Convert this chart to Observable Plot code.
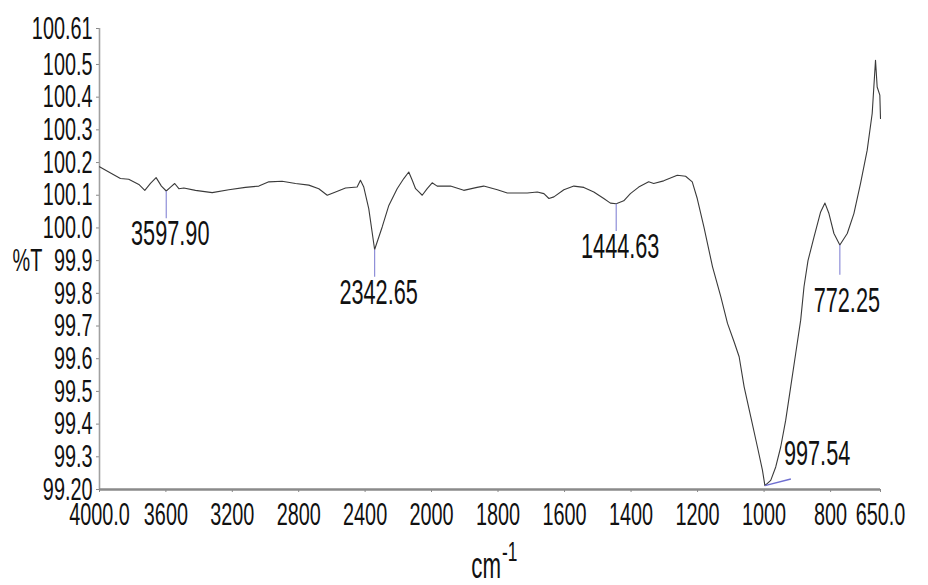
<!DOCTYPE html>
<html>
<head>
<meta charset="utf-8">
<script src="https://cdn.jsdelivr.net/npm/d3@7"></script>
<script src="https://cdn.jsdelivr.net/npm/@observablehq/plot@0.6"></script>
<style>
  html, body { margin: 0; padding: 0; background: #fff; }
  #chart { width: 928px; height: 585px; }
</style>
</head>
<body>
<div id="chart"></div>
<script>
// FTIR spectrum: wavenumber (cm^-1) and transmittance (%T)
const wavenumber = [
  4000, 3944, 3874, 3824, 3763, 3727, 3693, 3659, 3627, 3597.90,
  3572, 3547, 3522, 3492, 3422, 3321, 3221, 3121, 3040, 2980,
  2900, 2819, 2739, 2679, 2628, 2578, 2518, 2448, 2428, 2408,
  2378, 2342.65, 2297, 2257, 2207, 2167, 2137, 2116, 2096, 2076,
  2056, 2026, 1998, 1983, 1943, 1903, 1863, 1843, 1802, 1772,
  1712, 1682, 1662, 1647, 1632, 1602, 1572, 1542, 1512, 1482,
  1462, 1444.63, 1422, 1402, 1377, 1347, 1332, 1302, 1261, 1236,
  1216, 1201, 1181, 1155, 1130, 1110, 1090, 1075, 1060, 1040,
  1020, 1005, 997.54, 980, 965, 950, 935, 920, 905, 890,
  880, 868, 850, 830, 817, 805, 790, 772.25, 750, 730,
  710, 690, 675, 665, 660, 652, 650
];
const transmittance = [
  100.187, 100.171, 100.151, 100.149, 100.133, 100.115, 100.136, 100.154, 100.128, 100.113,
  100.125, 100.136, 100.120, 100.122, 100.115, 100.108, 100.117, 100.124, 100.128, 100.141,
  100.143, 100.136, 100.131, 100.120, 100.100, 100.110, 100.122, 100.125, 100.146, 100.125,
  100.059, 99.934, 100.003, 100.069, 100.120, 100.151, 100.171, 100.146, 100.120, 100.110,
  100.100, 100.120, 100.138, 100.128, 100.128, 100.115, 100.124, 100.128, 100.117, 100.107,
  100.107, 100.110, 100.105, 100.090, 100.095, 100.117, 100.128, 100.124, 100.110, 100.090,
  100.076, 100.074, 100.083, 100.105, 100.125, 100.141, 100.136, 100.144, 100.161, 100.158,
  100.141, 100.090, 100.003, 99.881, 99.789, 99.708, 99.651, 99.606, 99.514, 99.422,
  99.330, 99.259, 99.212, 99.228, 99.269, 99.330, 99.412, 99.514, 99.616, 99.718,
  99.820, 99.900, 99.972, 100.049, 100.076, 100.044, 99.983, 99.948, 99.983, 100.044,
  100.136, 100.238, 100.350, 100.513, 100.431, 100.406, 100.335
];

// Picked peaks
const peakWavenumbers = [3597.90, 2342.65, 1444.63, 772.25, 997.54];
const peakLabels = ["3597.90", "2342.65", "1444.63", "772.25", "997.54"];

// Axis ticks (expanded scale below 2000 cm^-1)
const xTicks = [4000, 3600, 3200, 2800, 2400, 2000, 1800, 1600, 1400, 1200, 1000, 800, 650];
const xTickLabels = ["4000.0", "3600", "3200", "2800", "2400", "2000", "1800", "1600", "1400", "1200", "1000", "800", "650.0"];
const yTicks = [99.2, 99.3, 99.4, 99.5, 99.6, 99.7, 99.8, 99.9, 100.0, 100.1, 100.2, 100.3, 100.4, 100.5, 100.61];
const yTickLabels = ["99.20", "99.3", "99.4", "99.5", "99.6", "99.7", "99.8", "99.9", "100.0", "100.1", "100.2", "100.3", "100.4", "100.5", "100.61"];

const spectrum = wavenumber.map((wn, i) => ({wn, t: transmittance[i]}));
const peaks = peakWavenumbers.map((wn, i) => ({
  wn,
  t: spectrum.find(d => d.wn === wn).t,
  label: peakLabels[i]
}));
const xLabelOf = new Map(xTicks.map((v, i) => [v, xTickLabels[i]]));
const yLabelOf = new Map(yTicks.map((v, i) => [v, yTickLabels[i]]));

const chartW = 928, chartH = 585;
const frameLeft = 99, frameRight = 880, frameTop = 28, frameBottom = 489;
const breakPx = 431; // where the 2000 cm^-1 expansion begins

const markLen = 0.083;     // length of the peak pick line, in %T
const markerColor = "#8e8ed8";
const isSide = d => d.label === "997.54";
const isLow = d => d.label === "772.25";

const chart = Plot.plot({
  width: chartW,
  height: chartH,
  marginLeft: frameLeft,
  marginRight: chartW - frameRight,
  marginTop: frameTop,
  marginBottom: chartH - frameBottom,
  style: {fontFamily: "'Liberation Sans', Arial, sans-serif", fontSize: "32px", color: "#111", background: "#fff"},
  x: {
    type: "linear",
    domain: [xTicks[0], 2000, xTicks[xTicks.length - 1]],
    range: [frameLeft, breakPx, frameRight],
    ticks: xTicks,
    tickFormat: d => xLabelOf.get(d),
    tickSize: 3,
    tickPadding: 10,
    label: null
  },
  y: {
    domain: [yTicks[0], yTicks[yTicks.length - 1]],
    ticks: yTicks,
    tickFormat: d => yLabelOf.get(d),
    tickSize: 3,
    tickPadding: 4,
    label: null
  },
  marks: [
    Plot.ruleX([xTicks[0]], {stroke: "#a0a0a0", strokeWidth: 1.6}),
    Plot.ruleY([yTicks[0]], {stroke: "#8a8a8a", strokeWidth: 2.6}),
    Plot.line(spectrum, {x: "wn", y: "t", stroke: "#3a3a3a", strokeWidth: 1.1}),
    // vertical pick lines
    Plot.link(peaks.filter(d => !isSide(d)), {
      x1: "wn", x2: "wn", y1: "t", y2: d => d.t - (isLow(d) ? markLen * 1.1 : markLen),
      stroke: markerColor, strokeWidth: 1.2
    }),
    // slanted pick line at the main band
    Plot.link(peaks.filter(isSide), {
      x1: "wn", y1: "t", x2: d => d.wn - 78, y2: d => d.t + 0.02,
      stroke: "#6f6fd0", strokeWidth: 1.4
    }),
    Plot.text(peaks.filter(d => !isSide(d) && !isLow(d)), {
      x: "wn", y: "t", text: "label", fontSize: 35, lineAnchor: "bottom", dy: 54, dx: 4, fill: "#111"
    }),
    Plot.text(peaks.filter(isLow), {
      x: "wn", y: "t", text: "label", fontSize: 35, lineAnchor: "bottom", dy: 67, dx: 7, fill: "#111"
    }),
    Plot.text(peaks.filter(isSide), {
      x: "wn", y: "t", text: "label", fontSize: 35, lineAnchor: "bottom", textAnchor: "start", dy: -21, dx: 19, fill: "#111"
    }),
    // y-axis title beside the 99.9 tick
    Plot.text(["%T"], {
      frameAnchor: "left", y: [yTicks[yTickLabels.indexOf("99.9")]], text: d => d,
      textAnchor: "start", dx: -87, fontSize: 32, fill: "#111"
    }),
    // x-axis title: cm with superscript -1
    Plot.text(["cm"], {
      frameAnchor: "bottom", text: d => d, textAnchor: "end", lineAnchor: "bottom",
      dx: 11, dy: 88, fontSize: 36, fill: "#111"
    }),
    Plot.text(["-1"], {
      frameAnchor: "bottom", text: d => d, textAnchor: "start", lineAnchor: "bottom",
      dx: 12, dy: 71, fontSize: 28, fill: "#111"
    })
  ]
});

// Narrow the lettering horizontally, keeping each label anchored where it is.
const squeeze = 0.62;
chart.querySelectorAll("text").forEach(t => {
  const x = parseFloat(t.getAttribute("x") || "0") || 0;
  const tr = t.getAttribute("transform") || "";
  t.setAttribute("transform", `${tr} translate(${x},0) scale(${squeeze},1) translate(${-x},0)`);
});
chart.querySelectorAll('g[aria-label$="tick"]').forEach(g => {
  g.setAttribute("stroke", "#888");
});

document.getElementById("chart").appendChild(chart);
</script>
</body>
</html>
